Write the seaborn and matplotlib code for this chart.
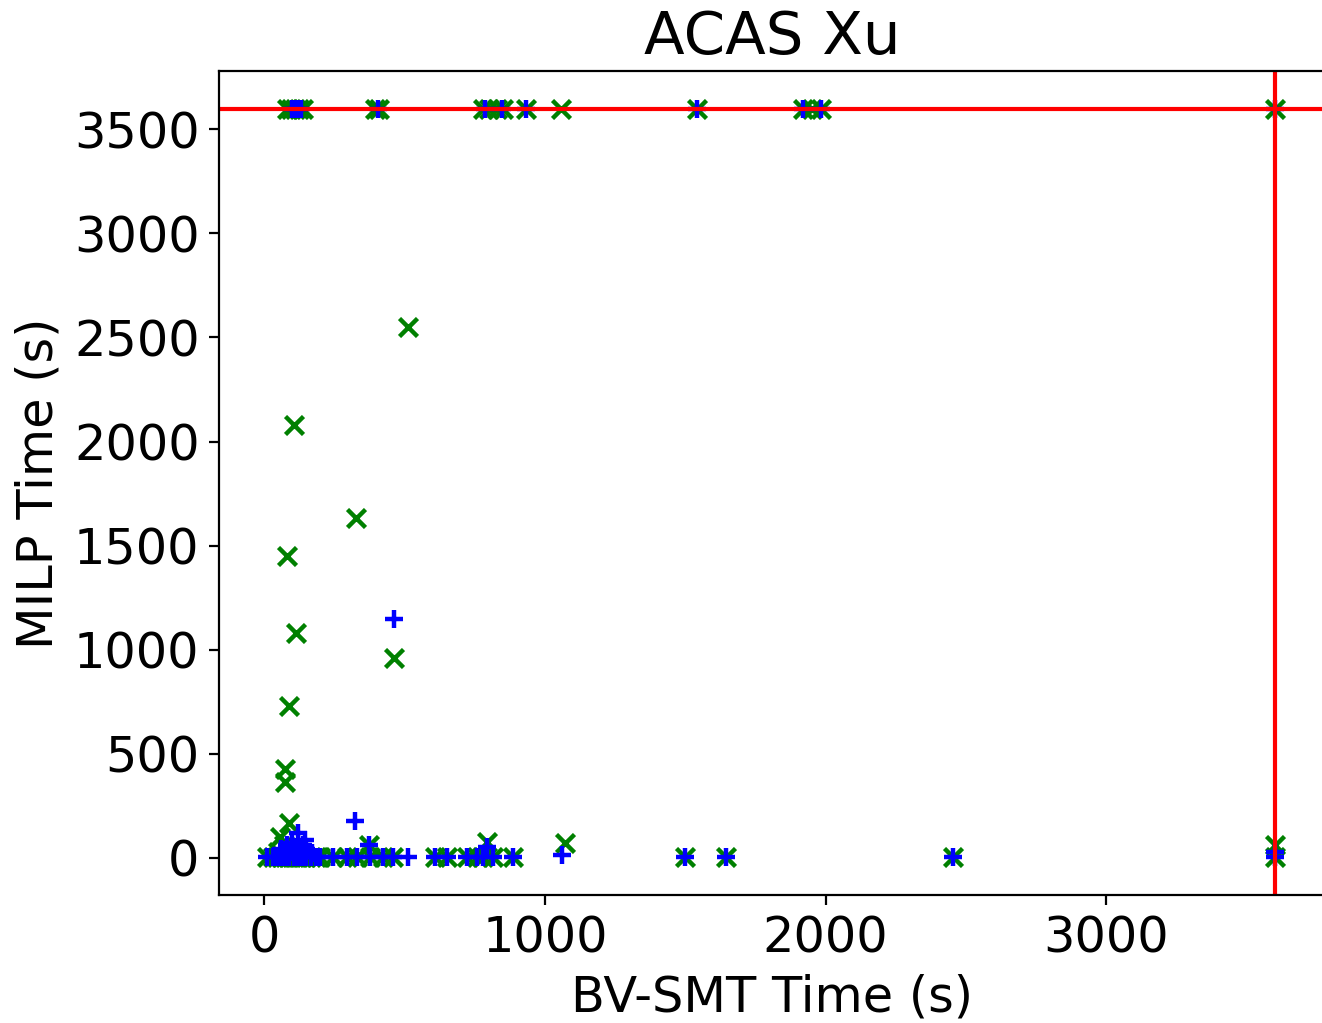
import matplotlib
matplotlib.use("Agg")
import matplotlib.pyplot as plt
import seaborn as sns
import pandas as pd

# ---- data ----
timeout = 3600

green_x = [80, 95, 110, 125, 140, 395, 410, 780, 800, 830, 850, 932, 1057, 1543, 1919, 1952, 1985, 3600,
           513, 106, 326, 82, 113, 462, 89, 74, 74, 89, 56, 792, 1072, 373, 3600,
           10, 30, 45, 60, 75, 90, 105, 120, 135, 150, 165, 185, 199, 245, 295, 330, 377, 424, 460,
           608, 650, 721, 757, 780, 815, 886, 1500, 1645, 2455, 3600,
           50, 70, 100]
green_y = [3600, 3600, 3600, 3600, 3600, 3600, 3600, 3600, 3600, 3600, 3600, 3600, 3600, 3600, 3600, 3600, 3600, 3600,
           2552, 2079, 1631, 1451, 1078, 958, 729, 426, 365, 165, 101, 77, 69, 61, 61,
           5, 5, 5, 5, 5, 5, 5, 5, 5, 5, 5, 5, 5, 5, 5, 5, 5, 5, 5,
           5, 5, 5, 5, 5, 5, 5, 5, 5, 5, 5,
           30, 60, 40]

blue_x = [100, 110, 120, 130, 407, 785, 848, 932, 1543, 1919, 1985, 3600,
          462, 323, 121, 145, 792, 1060, 373, 3600, 3600,
          10, 30, 45, 60, 75, 90, 105, 120, 135, 150, 165, 185, 199, 245, 295, 330, 377, 424, 460,
          513, 608, 650, 721, 757, 780, 815, 886, 1500, 1645, 2455,
          60, 80, 95, 110, 130, 150, 170, 70, 100, 120, 85, 140]
blue_y = [3600, 3600, 3600, 3600, 3600, 3600, 3600, 3600, 3600, 3600, 3600, 3600,
          1146, 178, 117, 85, 53, 13, 61, 29, 5,
          5, 5, 5, 5, 5, 5, 5, 5, 5, 5, 5, 5, 5, 5, 5, 5, 5, 5, 5,
          5, 5, 5, 5, 5, 5, 5, 5, 5, 5, 5,
          40, 60, 30, 50, 20, 40, 25, 20, 70, 35, 15, 60]

green_df = pd.DataFrame({"BV-SMT": green_x, "MILP": green_y})
blue_df = pd.DataFrame({"BV-SMT": blue_x, "MILP": blue_y})

# ---- figure ----
W, H, DPI = 1322, 1023, 200
fig = plt.figure(figsize=(W / DPI, H / DPI), dpi=DPI)
ax = fig.add_axes([219 / W, (H - 895) / H, (1325 - 219) / W, (895 - 70.7) / H])

sns.scatterplot(data=green_df, x="BV-SMT", y="MILP", marker="x", color="green",
                s=42, linewidth=1.6, ax=ax)
sns.scatterplot(data=blue_df, x="BV-SMT", y="MILP", marker="+", color="blue",
                s=42, linewidth=1.6, ax=ax)

ax.axhline(timeout, color="red", lw=1.5)
ax.axvline(timeout, color="red", lw=1.5)

ax.set_xlim(-161, 3779)
ax.set_ylim(-179, 3782)
ax.set_xticks([0, 1000, 2000, 3000])
ax.set_yticks([0, 500, 1000, 1500, 2000, 2500, 3000, 3500])

fs = 17.8
ax.set_xlabel("BV-SMT Time (s)", fontsize=fs)
ax.set_ylabel("MILP Time (s)", fontsize=fs)
ax.set_title("ACAS Xu", fontsize=21.4)
ax.tick_params(labelsize=fs)

fig.savefig("out.png", dpi=DPI)
